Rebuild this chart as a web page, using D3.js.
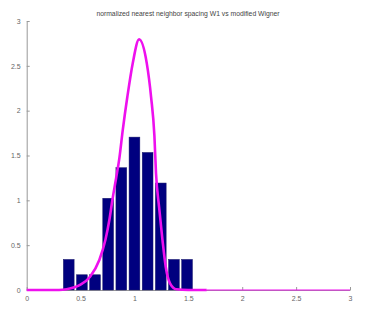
<!DOCTYPE html>
<html>
<head>
<meta charset="utf-8">
<script src="https://cdn.jsdelivr.net/npm/d3@7"></script>
<style>
  body { margin: 0; background: #fff; }
  svg { display: block; font-family: "Liberation Sans", Arial, sans-serif; }
  .tick text { fill: #666; font-size: 7px; }
  .tick line, .domain { stroke: #999; }
</style>
</head>
<body>
<svg width="378" height="322"></svg>
<script>
// Histogram bars (bin centres and normalized heights)
const binCenters = [0.39, 0.512, 0.634, 0.756, 0.878, 1.0, 1.122, 1.244, 1.366, 1.488];
const binHeights = [0.341, 0.170, 0.170, 1.023, 1.364, 1.705, 1.534, 1.193, 0.341, 0.341];

// Modified Wigner curve
const curveX = [0, 0.30, 0.37, 0.495, 0.588, 0.674, 0.73, 0.767, 0.795, 0.83, 0.86, 0.891, 0.934, 0.984, 1.043,
                1.114, 1.154, 1.185, 1.20, 1.228, 1.26, 1.29, 1.33, 1.39, 1.5, 1.67];
const curveY = [0, 0, 0.008, 0.056, 0.148, 0.334, 0.557, 0.78, 1.003, 1.25, 1.47, 1.78, 2.155, 2.53, 2.795,
                2.53, 2.155, 1.72, 1.30, 0.93, 0.557, 0.26, 0.075, 0.008, 0, 0];
const tailX = [1.67, 3];
const tailY = [0, 0];

const xTicks = [0, 0.5, 1, 1.5, 2, 2.5, 3];
const yTicks = [0, 0.5, 1, 1.5, 2, 2.5, 3];
const title = 'normalized nearest neighbor spacing W1 vs modified Wigner';

const svg = d3.select('svg');

const x = d3.scaleLinear().domain([0, 3]).range([26.7, 350]);
const y = d3.scaleLinear().domain([0, 3]).range([290, 21]);

// Axes
const xAxis = d3.axisBottom(x)
    .tickValues(xTicks)
    .tickSizeInner(-3)
    .tickSizeOuter(0)
    .tickPadding(6)
    .tickFormat(d3.format('~g'));

const yAxis = d3.axisLeft(y)
    .tickValues(yTicks)
    .tickSizeInner(-3)
    .tickSizeOuter(0)
    .tickPadding(6)
    .tickFormat(d3.format('~g'));

svg.append('g')
    .attr('class', 'x-axis')
    .attr('transform', `translate(0, ${y(0)})`)
    .call(xAxis);

svg.append('g')
    .attr('class', 'y-axis')
    .attr('transform', `translate(${x(0)}, 0)`)
    .call(yAxis);

// Bars
const barW = x(0.1) - x(0);
svg.append('g')
    .selectAll('rect')
    .data(binCenters)
    .enter()
    .append('rect')
    .attr('x', (d) => x(d) - barW / 2)
    .attr('width', barW)
    .attr('y', (d, i) => y(binHeights[i]))
    .attr('height', (d, i) => y(0) - y(binHeights[i]))
    .style('fill', '#00007f')
    .style('stroke', '#1a1a6a')
    .style('stroke-width', 0.5);

// Curve
const line = d3.line()
    .x((d) => x(d[0]))
    .y((d) => y(d[1]))
    .curve(d3.curveMonotoneX);

svg.append('path')
    .datum(tailX.map((d, i) => [d, tailY[i]]))
    .attr('d', line)
    .style('fill', 'none')
    .style('stroke', '#ee10ee')
    .style('stroke-width', 1.2);

svg.append('path')
    .datum(curveX.map((d, i) => [d, curveY[i]]))
    .attr('d', line)
    .style('fill', 'none')
    .style('stroke', '#ee10ee')
    .style('stroke-width', 2.6);

// Title
svg.append('text')
    .attr('x', 188)
    .attr('y', 16)
    .style('text-anchor', 'middle')
    .style('font-size', '6.8px')
    .style('fill', '#444')
    .text(title);
</script>
</body>
</html>
